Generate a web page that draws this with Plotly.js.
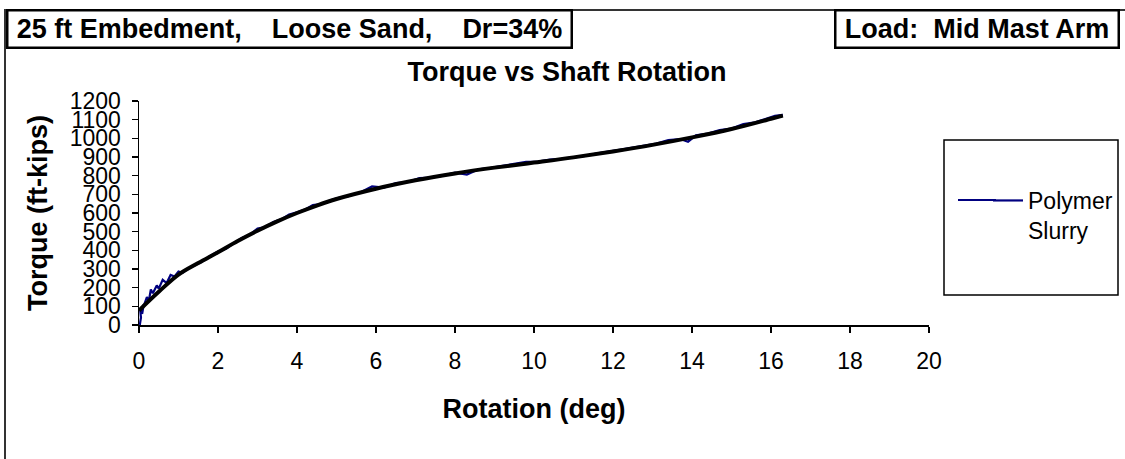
<!DOCTYPE html>
<html>
<head>
<meta charset="utf-8">
<script src="https://cdn.plot.ly/plotly-3.0.1.min.js"></script>
<style>html,body{margin:0;padding:0;background:#fff;}#chart{width:1125px;height:459px;}</style>
</head>
<body>
<div id="chart"></div>
<script>
// Measured data: Polymer Slurry (raw readings)
const rotationRaw = [0.02,0.05,0.03,0.08,0.12,0.10,0.20,0.25,0.30,0.35,0.45,0.50,0.60,0.70,0.80,0.90,1.00,1.10,1.25,1.40,1.60,1.80,2.00,2.20,2.40,2.60,2.80,3.00,3.20,3.40,3.60,3.80,4.00,4.20,4.40,4.60,4.80,5.00,5.30,5.60,5.90,6.20,6.50,6.80,7.10,7.40,7.70,8.00,8.30,8.60,8.90,9.20,9.50,9.80,10.10,10.40,10.70,11.00,11.30,11.60,11.90,12.20,12.50,12.80,13.10,13.40,13.70,13.90,14.10,14.40,14.70,15.00,15.30,15.60,15.90,16.10,16.30];
const torqueRaw = [0,40,80,60,110,90,150,130,190,170,212,195,242,225,268,260,287,280,302,320,340,370,394,408,435,466,482,517,525,552,566,592,604,618,642,648,664,678,690,710,742,736,760,766,787,790,800,816,806,834,842,854,862,874,876,886,890,896,906,920,932,940,950,960,972,990,996,982,1016,1026,1044,1052,1076,1086,1106,1120,1126];
// Fitted trend curve
const rotationFit = [0,0.5,1,1.5,2,2.5,3,3.5,4,4.5,5,6,7,8,9,10,11,12,13,14,15,16,16.3];
const torqueFit = [78,178,270,332,390,450,505,555,600,640,675,730,775,812,843,870,898,930,965,1005,1050,1105,1122];

const seriesName = "Polymer<br>Slurry";
const chartTitle = "Torque vs Shaft Rotation";
const xTitle = "Rotation (deg)";
const yTitle = "Torque (ft-kips)";
const boxLeft = "25 ft Embedment,&nbsp;&nbsp;&nbsp; Loose Sand,&nbsp;&nbsp;&nbsp; Dr=34%";
const boxRight = "Load:&nbsp; Mid Mast Arm";

const FONT = "Liberation Sans, Arial, sans-serif";
// plot area pixel geometry
const L = 139, R = 929, T = 101, B = 325;
const W = R - L, H = B - T;
const px = v => (v - L) / W;
const py = v => (B - v) / H;

const traces = [
  {x: rotationRaw, y: torqueRaw, type: 'scatter', mode: 'lines', name: seriesName,
   line: {color: '#000080', width: 2.2}, showlegend: true},
  {x: rotationFit, y: torqueFit, type: 'scatter', mode: 'lines', name: 'Trend',
   line: {color: '#000000', width: 4, shape: 'spline'}, showlegend: false}
];

const axisCommon = {
  showgrid: false, zeroline: false, showline: true, linecolor: '#000', linewidth: 1.5,
  ticks: 'outside', ticklen: 6, tickcolor: '#000', tickwidth: 1.5,
  tickfont: {family: FONT, size: 23, color: '#000'}
};

const layout = {
  width: 1125, height: 459,
  margin: {l: L, r: 1125 - R, t: T, b: 459 - B, autoexpand: false},
  paper_bgcolor: '#fff', plot_bgcolor: '#fff',
  title: {text: chartTitle, font: {family: FONT, size: 27, color: '#000', weight: 'bold'},
          x: 567 / 1125, xref: 'container', xanchor: 'center', y: 1 - 72 / 459, yanchor: 'middle'},
  xaxis: Object.assign({}, axisCommon, {range: [0, 20], dtick: 2, tick0: 0,
    ticklabelstandoff: 9,
    title: {text: xTitle, font: {family: FONT, size: 27, color: '#000', weight: 'bold'}, standoff: 26}}),
  yaxis: Object.assign({}, axisCommon, {range: [0, 1200], dtick: 100, tick0: 0,
    ticklabelstandoff: 6,
    title: {text: yTitle, font: {family: FONT, size: 27, color: '#000', weight: 'bold'}, standoff: 14}}),
  showlegend: true,
  legend: {x: px(988), xanchor: 'left', y: py(179), yanchor: 'top', valign: 'top',
           font: {family: FONT, size: 23, color: '#000'}, bgcolor: 'rgba(0,0,0,0)', borderwidth: 0,
           tracegroupgap: 0},
  shapes: [
    // outer chart border
    {type: 'rect', xref: 'paper', yref: 'paper', x0: px(5), x1: px(1140), y0: py(480), y1: py(10),
     line: {color: '#333', width: 2}, fillcolor: 'rgba(0,0,0,0)', layer: 'below'},
    // legend box
    {type: 'rect', xref: 'paper', yref: 'paper', x0: px(944), x1: px(1118), y0: py(295), y1: py(140),
     line: {color: '#000', width: 1.5}, fillcolor: 'rgba(0,0,0,0)'},
    // legend key line extension (longer key as in the reference)
    {type: 'line', xref: 'paper', yref: 'paper', x0: px(958), x1: px(996), y0: py(200), y1: py(200),
     line: {color: '#000080', width: 2.2}}
  ],
  annotations: [
    {text: boxLeft, xref: 'paper', yref: 'paper', x: px(289), y: py(28.5), xanchor: 'center', yanchor: 'middle',
     showarrow: false, width: 562, height: 35, bgcolor: '#fff', bordercolor: '#000', borderwidth: 2.5, borderpad: 0,
     font: {family: FONT, size: 27, color: '#000', weight: 'bold'}},
    {text: boxRight, xref: 'paper', yref: 'paper', x: px(976.5), y: py(28.5), xanchor: 'center', yanchor: 'middle',
     showarrow: false, width: 281, height: 35, bgcolor: '#fff', bordercolor: '#000', borderwidth: 2.5, borderpad: 0,
     font: {family: FONT, size: 27, color: '#000', weight: 'bold'}}
  ]
};

Plotly.newPlot('chart', traces, layout, {staticPlot: true, displayModeBar: false});
</script>
</body>
</html>
